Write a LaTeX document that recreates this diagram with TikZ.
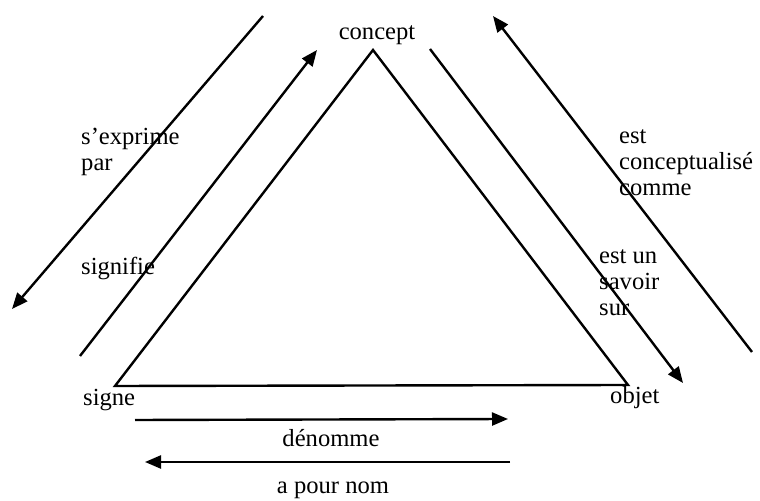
\documentclass[tikz,border=0pt]{standalone}
\usepackage{fontspec}
\setmainfont{Liberation Serif}
\usetikzlibrary{arrows.meta}

\begin{document}
\begin{tikzpicture}[x=0.5pt,y=-0.5pt,line width=1.2pt]
    \tikzstyle{ar}=[-{Triangle[length=8pt,width=6.5pt]}]
    \tikzstyle{lbl}=[inner sep=0pt,font=\fontsize{12.3}{13}\selectfont]
    \tikzstyle{lbll}=[lbl,align=left,anchor=west]
    \useasboundingbox (0,0) rectangle (760,501);

    \coordinate (apex) at (373,50);
    \coordinate (left) at (115,386);
    \coordinate (right) at (628,385);
    \draw[line join=miter] (left) -- (apex) -- (right) -- cycle;

    \coordinate (lo1) at (263,16);
    \coordinate (lo2) at (12,309);
    \coordinate (li1) at (80,356);
    \coordinate (li2) at (317,50);
    \coordinate (ri1) at (430,49);
    \coordinate (ri2) at (683,383);
    \coordinate (ro1) at (752,352);
    \coordinate (ro2) at (493,16);
    \coordinate (bt1) at (135,420);
    \coordinate (bt2) at (508,419);
    \coordinate (bb1) at (510,462);
    \coordinate (bb2) at (145,462);

    \draw[ar] (lo1) -- (lo2);
    \draw[ar] (li1) -- (li2);
    \draw[ar] (ri1) -- (ri2);
    \draw[ar] (ro1) -- (ro2);
    \draw[ar] (bt1) -- (bt2);
    \draw[ar] (bb1) -- (bb2);

    \node[lbl] (concept) at (377,35) {concept};
    \node[lbll] (signe) at (82,400) {signe};
    \node[lbll] (objet) at (609,398) {objet};
    \node[lbll] (exprime) at (80,152) {s'exprime\\par};
    \node[lbll] (signifie) at (80,268) {signifie};
    \node[lbll] (concpt) at (618,163) {est\\conceptualisé\\comme};
    \node[lbll] (savoir) at (598,283) {est un\\savoir\\sur};
    \node[lbl] (denomme) at (331,438) {dénomme};
    \node[lbl] (nom) at (333,490) {a pour nom};
\end{tikzpicture}
\end{document}
